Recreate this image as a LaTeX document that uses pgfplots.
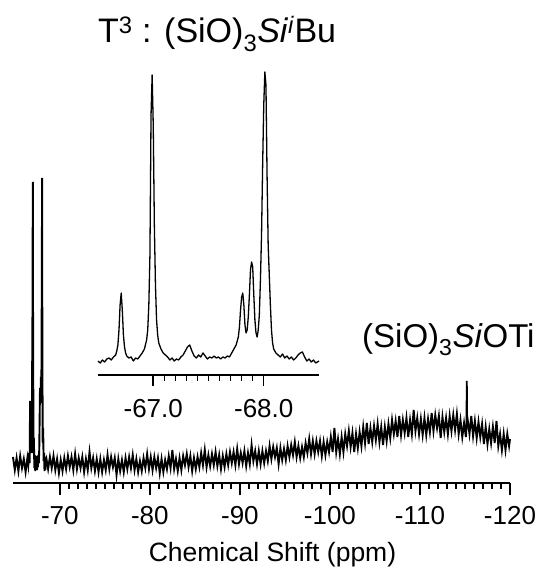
\documentclass[border=0pt]{standalone}
\usepackage{fontspec}
\setmainfont{Liberation Sans}
\usepackage{pgfplots}
\usepackage{pgfplotstable}
\pgfplotsset{compat=1.18}

\pgfplotstableread[row sep=\\]{
x y\\
-64.80 26\\ -65.00 13\\ -65.20 25\\ -65.40 12\\ -65.60 27\\ -65.80 15\\ -66.00 24\\ -66.20 11\\ -66.40 25\\
-66.50 18\\ -66.60 30\\ -66.65 20\\ -66.70 82\\ -66.75 35\\ -66.80 45\\ -66.85 30\\ -66.90 70\\ -66.97 180\\
-67.00 301\\ -67.03 160\\ -67.08 30\\ -67.12 45\\ -67.17 15\\ -67.22 28\\ -67.27 12\\ -67.32 26\\ -67.37 14\\
-67.42 27\\ -67.47 13\\ -67.52 25\\ -67.57 16\\ -67.62 28\\ -67.67 20\\ -67.72 35\\ -67.80 95\\ -67.85 80\\
-67.90 106\\ -67.95 90\\ -68.00 200\\ -68.03 305\\ -68.06 150\\ -68.10 40\\ -68.15 55\\ -68.20 22\\ -68.25 30\\
-68.30 12\\ -68.35 26\\ -68.40 13\\ -68.45 24\\
-68.5 25\\ -68.7 14\\ -68.9 26\\ -69.1 15\\ -69.3 27\\ -69.5 13\\ -69.7 24\\ -69.9 10\\ -70.1 23\\ -70.3 12\\
-70.5 25\\ -70.7 14\\ -70.9 27\\ -71.1 16\\ -71.3 26\\ -71.5 13\\ -71.7 29\\ -71.9 14\\ -72.1 25\\ -72.3 15\\
-72.5 26\\ -72.7 11\\ -72.9 24\\ -73.1 13\\ -73.3 31\\ -73.5 15\\ -73.7 25\\ -73.9 12\\ -74.1 24\\ -74.3 11\\
-74.5 24\\ -74.7 11\\ -74.9 23\\ -75.1 13\\ -75.3 28\\ -75.5 14\\ -75.7 26\\ -75.9 16\\ -76.1 25\\ -76.3 8\\
-76.5 24\\ -76.7 12\\ -76.9 23\\ -77.1 11\\ -77.3 25\\ -77.5 14\\ -77.7 26\\ -77.9 15\\ -78.1 28\\ -78.3 13\\
-78.5 24\\ -78.7 11\\ -78.9 22\\ -79.1 12\\ -79.3 25\\ -79.5 15\\ -79.7 29\\ -79.9 14\\ -80.1 26\\ -80.3 13\\
-80.5 26\\ -80.7 15\\ -80.9 25\\ -81.1 10\\ -81.3 24\\ -81.5 11\\ -81.7 23\\ -81.9 14\\ -82.1 27\\ -82.3 15\\
-82.5 33\\ -82.7 14\\ -82.9 24\\ -83.1 12\\ -83.3 25\\ -83.5 13\\ -83.7 27\\ -83.9 18\\ -84.1 29\\ -84.3 16\\
-84.5 27\\ -84.7 12\\ -84.9 25\\ -85.1 14\\ -85.3 26\\ -85.5 16\\ -85.7 30\\ -85.9 18\\ -86.1 33\\ -86.3 16\\
-86.5 28\\ -86.7 17\\ -86.9 29\\ -87.1 18\\ -87.3 31\\ -87.5 17\\ -87.7 28\\ -87.9 14\\ -88.1 27\\ -88.3 16\\
-88.5 29\\ -88.7 18\\ -88.9 31\\ -89.1 20\\ -89.3 31\\ -89.5 18\\ -89.7 34\\ -89.9 19\\ -90.1 30\\ -90.3 20\\
-90.5 32\\ -90.7 17\\ -90.9 30\\ -91.1 19\\ -91.3 38\\ -91.5 22\\ -91.7 32\\ -91.9 19\\ -92.1 32\\ -92.3 19\\
-92.5 32\\ -92.7 20\\ -92.9 32\\ -93.1 22\\ -93.3 37\\ -93.5 24\\ -93.7 36\\ -93.9 26\\ -94.1 35\\ -94.3 19\\
-94.5 35\\ -94.7 23\\ -94.9 34\\ -95.1 23\\ -95.3 37\\ -95.5 26\\ -95.7 38\\ -95.9 28\\ -96.1 41\\ -96.3 26\\
-96.5 37\\ -96.7 25\\ -96.9 36\\ -97.1 26\\ -97.3 40\\ -97.5 30\\ -97.7 44\\ -97.9 29\\ -98.1 42\\ -98.3 29\\
-98.5 42\\ -98.7 31\\ -98.9 42\\ -99.1 27\\ -99.3 41\\ -99.5 28\\ -99.7 41\\ -99.9 31\\ -100.1 46\\ -100.3 31\\
-100.5 55\\ -100.7 31\\ -100.9 44\\ -101.1 29\\ -101.3 46\\ -101.5 31\\ -101.7 49\\ -101.9 37\\ -102.1 52\\ -102.3 36\\
-102.5 50\\ -102.7 31\\ -102.9 49\\ -103.1 35\\ -103.3 51\\ -103.5 37\\ -103.7 56\\ -103.9 40\\ -104.1 60\\ -104.3 39\\
-104.5 55\\ -104.7 41\\ -104.9 57\\ -105.1 43\\ -105.3 59\\ -105.5 41\\ -105.7 56\\ -105.9 38\\ -106.1 56\\ -106.3 42\\
-106.5 59\\ -106.7 45\\ -106.9 63\\ -107.1 49\\ -107.3 62\\ -107.5 46\\ -107.7 67\\ -107.9 48\\ -108.1 63\\ -108.3 50\\
-108.5 65\\ -108.7 46\\ -108.9 63\\ -109.1 49\\ -109.3 73\\ -109.5 52\\ -109.7 65\\ -109.9 49\\ -110.1 64\\ -110.3 48\\
-110.5 65\\ -110.7 48\\ -110.9 64\\ -111.1 51\\ -111.3 70\\ -111.5 52\\ -111.7 68\\ -111.9 55\\ -112.1 67\\ -112.3 45\\
-112.5 66\\ -112.7 51\\ -112.9 65\\ -113.1 49\\ -113.3 67\\ -113.5 52\\ -113.7 68\\ -113.9 53\\ -114.1 69\\ -114.3 49\\
-114.5 63\\ -114.7 46\\ -114.9 60\\ -115.1 46\\ -115.18 57\\ -115.20 102\\ -115.22 55\\ -115.3 63\\ -115.5 49\\ -115.7 67\\
-115.9 47\\ -116.1 62\\ -116.3 45\\ -116.5 61\\ -116.7 46\\ -116.9 59\\ -117.1 39\\ -117.3 56\\ -117.5 39\\ -117.7 54\\
-117.9 40\\ -118.1 56\\ -118.3 40\\ -118.5 62\\ -118.7 37\\ -118.9 49\\ -119.1 33\\ -119.3 49\\ -119.5 33\\ -119.7 49\\
-119.9 37\\ -120.0 44\\
}\maindata

\pgfplotstableread[row sep=\\]{
x y\\
-66.50 14\\ -66.52 12\\ -66.54 15\\ -66.56 13\\ -66.58 16\\ -66.60 17\\ -66.62 15\\ -66.64 18\\ -66.66 20\\
-66.67 24\\ -66.68 30\\ -66.69 45\\ -66.70 70\\ -66.71 82\\ -66.72 65\\ -66.73 40\\ -66.74 28\\ -66.75 22\\
-66.76 19\\ -66.78 17\\ -66.80 18\\ -66.82 14\\ -66.84 17\\ -66.86 16\\ -66.88 19\\ -66.90 22\\ -66.92 26\\
-66.94 35\\ -66.95 45\\ -66.96 70\\ -66.97 120\\ -66.98 260\\ -66.99 300\\ -67.00 250\\ -67.01 150\\ -67.02 90\\
-67.03 55\\ -67.04 40\\ -67.05 32\\ -67.07 26\\ -67.09 22\\ -67.11 20\\ -67.13 18\\ -67.15 15\\ -67.17 17\\
-67.19 14\\ -67.21 16\\ -67.23 15\\ -67.25 18\\ -67.27 20\\ -67.29 24\\ -67.31 28\\ -67.33 30\\ -67.35 24\\
-67.37 19\\ -67.39 17\\ -67.41 20\\ -67.43 18\\ -67.45 22\\ -67.47 19\\ -67.49 16\\ -67.51 18\\ -67.53 17\\
-67.55 19\\ -67.57 17\\ -67.59 18\\ -67.61 16\\ -67.63 18\\ -67.65 17\\ -67.67 19\\ -67.69 18\\ -67.71 22\\
-67.73 26\\ -67.75 30\\ -67.77 38\\ -67.78 48\\ -67.79 65\\ -67.80 78\\ -67.81 82\\ -67.82 70\\ -67.83 50\\
-67.84 42\\ -67.85 45\\ -67.86 58\\ -67.87 80\\ -67.88 105\\ -67.89 113\\ -67.90 108\\ -67.91 80\\ -67.92 55\\
-67.93 42\\ -67.94 38\\ -67.95 45\\ -67.96 60\\ -67.97 95\\ -67.98 140\\ -67.99 210\\ -68.00 270\\ -68.01 303\\
-68.02 290\\ -68.03 200\\ -68.04 130\\ -68.05 100\\ -68.06 70\\ -68.07 45\\ -68.08 32\\ -68.09 26\\ -68.11 22\\
-68.13 20\\ -68.15 18\\ -68.17 21\\ -68.19 17\\ -68.21 19\\ -68.23 16\\ -68.25 18\\ -68.27 15\\ -68.29 17\\
-68.31 20\\ -68.33 22\\ -68.35 23\\ -68.37 18\\ -68.39 14\\ -68.41 16\\ -68.43 13\\ -68.45 15\\ -68.47 12\\
-68.50 14\\
}\insetdata

\begin{document}
\begin{tikzpicture}
\path[use as bounding box] (0pt,0pt) rectangle (541pt,573pt);
\begin{axis}[
  at={(13pt,90pt)}, anchor=south west,
  scale only axis, width=497pt, height=313pt,
  x dir=reverse, xmin=-120, xmax=-64.8, ymin=0, ymax=313,
  axis x line=bottom, axis y line=none,
  x axis line style={-, line width=1.5pt},
  xtick={-120,-110,-100,-90,-80,-70},
  xticklabels={-120,-110,-100,-90,-80,-70},
  minor x tick num=9,
  tick align=outside, major tick length=12pt, minor tick length=6pt,
  every tick/.style={line width=1.5pt, black},
  xticklabel style={font=\fontsize{26}{30}\selectfont, yshift=-8pt},
  xlabel={Chemical Shift (ppm)},
  xlabel style={font=\fontsize{26.5}{30}\selectfont, at={(axis description cs:0.5,0)}, anchor=base, yshift=-78pt, xshift=11pt},
  clip=false,
]
\addplot[black, line width=1.9pt, line join=miter] table[x=x,y=y] {\maindata};
\end{axis}
\begin{axis}[
  at={(98pt,198pt)}, anchor=south west,
  scale only axis, width=221pt, height=305pt,
  x dir=reverse, xmin=-68.5, xmax=-66.5, ymin=0, ymax=305,
  axis x line=bottom, axis y line=none,
  x axis line style={-, line width=1.5pt},
  xtick={-68,-67},
  xticklabels={-68.0,-67.0},
  minor x tick num=9,
  tick align=outside, major tick length=11pt, minor tick length=6pt,
  every tick/.style={line width=1.5pt, black},
  xticklabel style={font=\fontsize{26}{30}\selectfont, yshift=-10pt},
  clip=false,
]
\addplot[black, line width=1.3pt, line join=round] table[x=x,y=y] {\insetdata};
\end{axis}
\node[anchor=base west, inner sep=0pt, font=\fontsize{34}{40}\selectfont] at (98pt,530pt) {T\textsuperscript{3} : (SiO)\textsubscript{3}\textit{Si}\textsuperscript{\textit{i}}Bu};
\node[anchor=base west, inner sep=0pt, font=\fontsize{33}{38}\selectfont] at (362pt,225pt) {(SiO)\textsubscript{3}\textit{Si}OTi};
\end{tikzpicture}
\end{document}
